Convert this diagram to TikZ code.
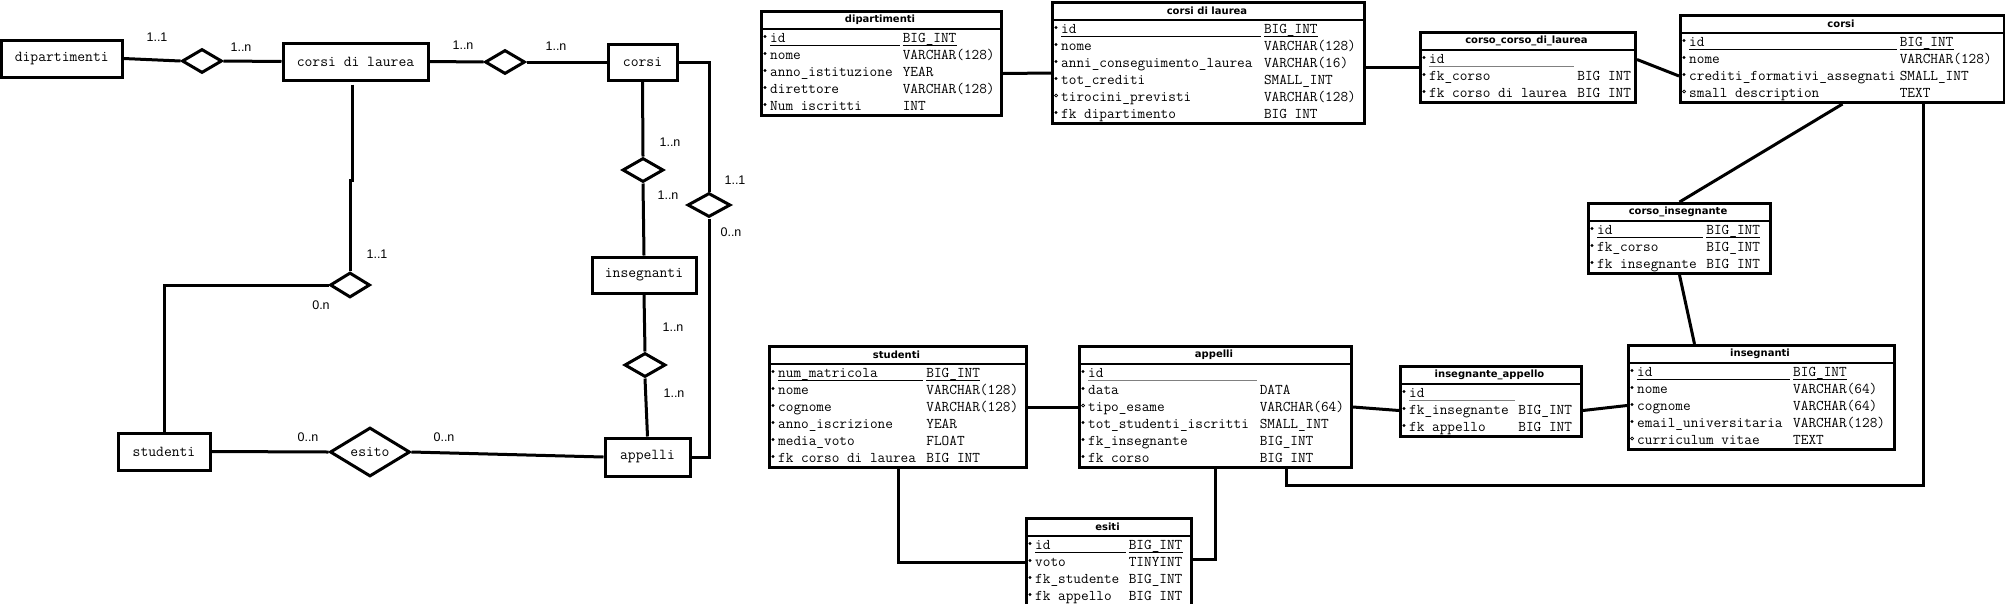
\documentclass[tikz,border=0pt]{standalone}
\usepackage{fontspec}
\setmainfont{Liberation Sans}
\newfontfamily\erTitle{DejaVu Sans}
\usetikzlibrary{shapes.geometric}

\tikzset{
  entity/.style={draw, line width=3pt, inner sep=0pt, font=\ttfamily\fontsize{15.2}{16}\selectfont},
  relation/.style={draw, diamond, line width=3pt, inner sep=0pt, aspect=1.6, font=\ttfamily\fontsize{15.2}{16}\selectfont},
  card/.style={inner sep=0pt, font=\fontsize{12.5}{13}\selectfont},
  link/.style={line width=3pt},
  tablebox/.style={draw, line width=3pt, inner sep=0pt, anchor=north west},
  fieldtext/.style={inner sep=0pt, anchor=base west, font=\ttfamily\fontsize{14.86}{15}\selectfont},
  titletext/.style={inner sep=0pt, font=\erTitle\bfseries\fontsize{10}{10}\selectfont},
}

% #1 name, #2 left, #3 top, #4 width, #5 type column (chars), #6 title, #7 rows
% row marker: 0 optional, 1 mandatory, 2 key with type, 3 key without type
\newcommand{\dbtable}[7]{%
  \foreach \mk/\fld/\typ [count=\i] in {#7} {
    \pgfmathsetmacro{\by}{#3+15+17*\i}
    \node[fieldtext] (#1-f\i) at (#2+10,\by) {\fld};
    \node[fieldtext] (#1-t\i) at (#2+10+7.8*#5,\by) {\typ};
    \ifnum\mk=0\relax
      \draw[line width=0.7pt] (#2+5,\by-5.5) circle (1.5pt);
    \else
      \fill (#2+5,\by-5.5) circle (1.7pt);
    \fi
    \ifnum\mk=2\relax
      \draw[line width=1pt] (#2+10,\by+3) -- (#2+7+7.8*#5,\by+3);
      \draw[line width=1pt] ([yshift=-3pt]#1-t\i.base west) -- ([yshift=-3pt]#1-t\i.base east);
    \fi
    \ifnum\mk=3\relax
      \draw[line width=1pt, gray] (#2+10,\by+3) -- (#2+7+7.8*#5,\by+3);
    \fi
    \xdef\nrows{\i}
  }
  \node[tablebox, minimum width=#4, minimum height=19+17*\nrows] (#1) at (#2,#3) {};
  \draw[line width=2.5pt] (#1.north west) ++(0,19) -- ++(#4,0);
  \node[titletext] (#1-title) at (#2+#4/2,#3+10) {#6};
}

\begin{document}
\begin{tikzpicture}[x=1pt, y=-1pt]
  \path[use as bounding box, fill=white] (0,0) rectangle (2005,603);

  % conceptual schema
  \node[entity, minimum width=120.5pt, minimum height=37pt] (dip) at (61.75,58.5) {dipartimenti};
  \node[entity, minimum width=145pt, minimum height=37pt] (cdl) at (355.5,61.5) {corsi di laurea};
  \node[entity, minimum width=69pt, minimum height=36pt] (corsi) at (642.5,62) {corsi};
  \node[entity, minimum width=104pt, minimum height=36pt] (ins) at (644,275) {insegnanti};
  \node[entity, minimum width=85pt, minimum height=38pt] (app) at (647.5,457) {appelli};
  \node[entity, minimum width=92pt, minimum height=37pt] (stud) at (164,451.5) {studenti};

  \node[relation, minimum width=40pt, minimum height=24pt] (r1) at (202,61) {};
  \node[relation, minimum width=40pt, minimum height=24pt] (r2) at (505,62) {};
  \node[relation, minimum width=41pt, minimum height=24pt] (r3) at (643,170) {};
  \node[relation, minimum width=41pt, minimum height=24pt] (r4) at (645,365) {};
  \node[relation, minimum width=43pt, minimum height=24pt] (r5) at (709,205) {};
  \node[relation, minimum width=40pt, minimum height=25pt] (r6) at (350,285) {};
  \node[relation, minimum width=80pt, minimum height=49pt] (esito) at (370,452) {esito};

  \draw[link] (dip.east) -- (r1.west);
  \draw[link] (r1.east) -- (cdl.west);
  \draw[link] (cdl.east) -- (r2.west);
  \draw[link] (r2.east) -- (corsi.west);
  \draw[link] (corsi.east) -| (r5.north);
  \draw[link] (r5.south) |- (app.east);
  \draw[link] (corsi.south) -- (r3.north);
  \draw[link] (r3.south) -- (ins.north);
  \draw[link] (ins.south) -- (r4.north);
  \draw[link] (r4.south) -- (app.north);
  \draw[link] ([xshift=-3.5pt,yshift=-3pt]cdl.south) -- ++(0,96) -| (r6.north);
  \draw[link] (stud.north) |- (r6.west);
  \draw[link] (stud.east) -- (esito.west);
  \draw[link] (esito.east) -- (app.west);

  \node[card] (c1) at (157,37) {1..1};
  \node[card] (c2) at (241,47) {1..n};
  \node[card] (c3) at (463,45) {1..n};
  \node[card] (c4) at (556,46) {1..n};
  \node[card] (c5) at (670,142) {1..n};
  \node[card] (c6) at (668,195) {1..n};
  \node[card] (c7) at (735,180) {1..1};
  \node[card] (c8) at (731,232) {0..n};
  \node[card] (c9) at (673,327) {1..n};
  \node[card] (c10) at (674,393) {1..n};
  \node[card] (c11) at (377,254) {1..1};
  \node[card] (c12) at (321,305) {0.n};
  \node[card] (c13) at (308,437) {0..n};
  \node[card] (c14) at (444,437) {0..n};

  % logical schema
  \dbtable{dipT}{760}{10}{240}{17}{dipartimenti}{2/id/BIG\_INT, 1/nome/VARCHAR(128), 1/anno\_istituzione/YEAR, 1/direttore/VARCHAR(128), 1/Num iscritti/INT}
  \dbtable{cdlT}{1051}{1}{312}{26}{corsi di laurea}{2/id/BIG\_INT, 1/nome/VARCHAR(128), 1/anni\_conseguimento\_laurea/VARCHAR(16), 1/tot\_crediti/SMALL\_INT, 0/tirocini\_previsti/VARCHAR(128), 1/fk dipartimento/BIG INT}
  \dbtable{ccdlT}{1419}{31}{215}{19}{corso\_corso\_di\_laurea}{3/id/, 1/fk\_corso/BIG INT, 1/fk corso di laurea/BIG INT}
  \dbtable{corsiT}{1679}{14}{324}{27}{corsi}{2/id/BIG\_INT, 1/nome/VARCHAR(128), 1/crediti\_formativi\_assegnati/SMALL\_INT, 0/small description/TEXT}
  \dbtable{ciT}{1587}{202}{182}{14}{corso\_insegnante}{2/id/BIG\_INT, 1/fk\_corso/BIG\_INT, 1/fk insegnante/BIG INT}
  \dbtable{insT}{1627}{344}{266}{20}{insegnanti}{2/id/BIG\_INT, 1/nome/VARCHAR(64), 1/cognome/VARCHAR(64), 1/email\_universitaria/VARCHAR(128), 0/curriculum vitae/TEXT}
  \dbtable{iaT}{1399}{365}{181}{14}{insegnante\_appello}{3/id/, 1/fk\_insegnante/BIG\_INT, 1/fk appello/BIG INT}
  \dbtable{appT}{1078}{345}{272}{22}{appelli}{3/id/, 1/data/DATA, 0/tipo\_esame/VARCHAR(64), 1/tot\_studenti\_iscritti/SMALL\_INT, 1/fk\_insegnante/BIG\_INT, 1/fk corso/BIG INT}
  \dbtable{studT}{768}{345}{257}{19}{studenti}{2/num\_matricola/BIG\_INT, 1/nome/VARCHAR(128), 1/cognome/VARCHAR(128), 1/anno\_iscrizione/YEAR, 1/media\_voto/FLOAT, 1/fk corso di laurea/BIG INT}
  \dbtable{esT}{1025}{517}{165}{12}{esiti}{2/id/BIG\_INT, 1/voto/TINYINT, 1/fk\_studente/BIG\_INT, 1/fk appello/BIG INT}

  \draw[link] ([yshift=-10pt]dipT.east) -- ([yshift=-10pt]cdlT.west);
  \draw[link] (cdlT.east |- ccdlT.west) -- (ccdlT.west);
  \draw[link] ([yshift=8pt]ccdlT.east) -- ([yshift=-17pt]corsiT.west);
  \draw[link] (corsiT.south) -- (ciT.north);
  \draw[link] (ciT.south) -- ([xshift=-67pt]insT.north);
  \draw[link] ([xshift=81pt]corsiT.south) -- ++(0,381) -| ([xshift=71pt]appT.south);
  \draw[link] (studT.east) -- (appT.west);
  \draw[link] (appT.east) -- ([yshift=-9pt]iaT.west);
  \draw[link] ([yshift=-9pt]iaT.east) -- ([yshift=-8pt]insT.west);
  \draw[link] (studT.south) |- (esT.west);
  \draw[link] (appT.south) |- ([yshift=3pt]esT.east);
\end{tikzpicture}
\end{document}
